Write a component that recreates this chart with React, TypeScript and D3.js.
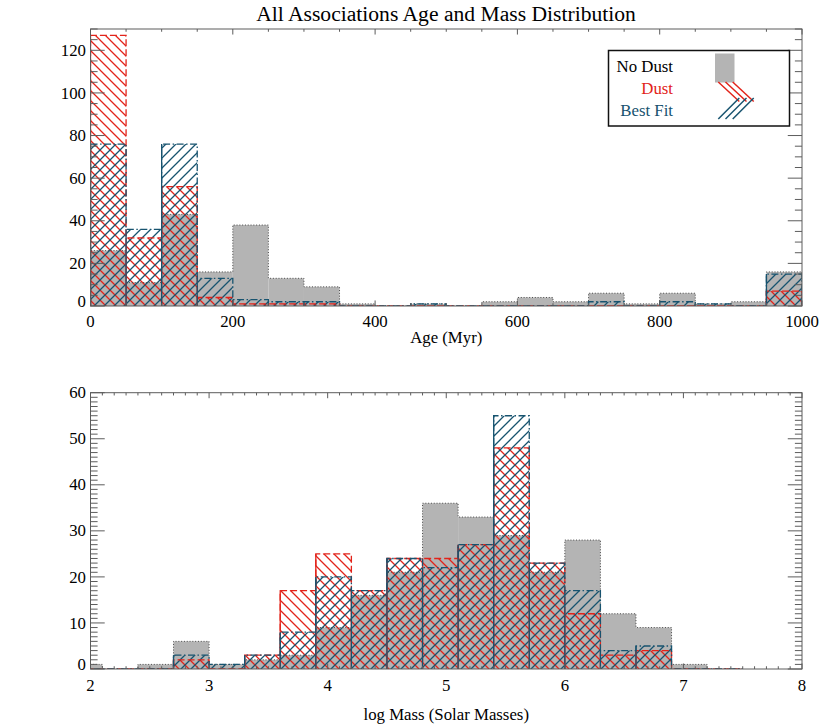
import React from "react";
import * as d3 from "d3";

// ---------- data ----------
const ageBinStart = 0;
const ageBinWidth = 50;
const ageNoDust = [26, 11, 43, 16, 38, 13, 9, 1, 0, 1, 0, 2, 4, 2, 6, 1, 6, 1, 2, 16];
const ageDust = [127, 32, 56, 4, 1, 1, 1, 0, 0, 0, 0, 0, 0, 0, 0, 0, 0, 0, 0, 7];
const ageBestFit = [76, 36, 76, 13, 3, 2, 2, 0, 0, 1, 0, 0, 0, 0, 2, 0, 2, 1, 0, 15];
const ageXTicks = [0, 200, 400, 600, 800, 1000];
const ageYTicks = [0, 20, 40, 60, 80, 100, 120];

const massBinStart = 1.8;
const massBinWidth = 0.3;
const massNoDust = [1, 0, 1, 6, 1, 2, 3, 9, 16, 21, 36, 33, 29, 21, 28, 12, 9, 1, 0];
const massDust = [0, 0, 0, 2, 0, 3, 17, 25, 17, 24, 24, 27, 48, 23, 12, 3, 4, 0, 0];
const massBestFit = [0, 0, 0, 3, 1, 3, 8, 20, 17, 24, 22, 27, 55, 23, 17, 4, 5, 0, 0];
const massXTicks = [2, 3, 4, 5, 6, 7, 8];
const massYTicks = [0, 10, 20, 30, 40, 50, 60];

const titleText = "All Associations Age and Mass Distribution";
const legendLabels = ["No Dust", "Dust", "Best Fit"];

// ---------- style ----------
const RED = "#e2231a";
const BLUE = "#17536f";
const GRAY = "#b4b4b4";
const AXIS = "#5c5c5c";
const FONT = "'Liberation Serif', 'DejaVu Serif', serif";

function rangeSteps(a: number, b: number, step: number) {
  const n = Math.round((b - a) / step);
  return d3.range(n + 1).map((i) => +(a + i * step).toFixed(6));
}

type PanelProps = {
  id: string;
  left: number;
  right: number;
  top: number;
  bottom: number;
  xDomain: [number, number];
  yDomain: [number, number];
  binStart: number;
  binWidth: number;
  noDust: number[];
  dust: number[];
  best: number[];
  xTicks: number[];
  yTicks: number[];
  xMinor: number;
  yMinor: number;
  xTitle: string;
  xLabelBaseline: number;
  xTitleBaseline: number;
};

function Panel(p: PanelProps) {
  const x = d3.scaleLinear().domain(p.xDomain).range([p.left, p.right]);
  const y = d3.scaleLinear().domain(p.yDomain).range([p.bottom, p.top]);
  const edge = (i: number) => p.binStart + i * p.binWidth;
  const step = (vals: number[]) => {
    let s = `M${x(edge(0))},${y(0)}`;
    vals.forEach((v, i) => {
      s += `V${y(v)}H${x(edge(i + 1))}`;
    });
    s += `V${y(0)}`;
    return s;
  };
  const rects = (vals: number[], fill: string) =>
    vals.map((v, i) =>
      v > 0 ? (
        <rect
          key={i}
          x={x(edge(i))}
          y={y(v)}
          width={x(edge(i + 1)) - x(edge(i))}
          height={y(0) - y(v)}
          fill={fill}
        />
      ) : null
    );
  const leftEdges = (vals: number[], color: string) =>
    vals.map((v, i) =>
      v > 0 ? (
        <line key={i} x1={x(edge(i))} x2={x(edge(i))} y1={y(0)} y2={y(v)} stroke={color} strokeWidth={1.3} />
      ) : null
    );
  const w = p.right - p.left;
  const h = p.bottom - p.top;
  const yMajLen = 0.02 * w;
  const xMajLen = 0.02 * h;
  const xMinorTicks = rangeSteps(p.xDomain[0], p.xDomain[1], p.xMinor);
  const yMinorTicks = rangeSteps(p.yDomain[0], p.yDomain[1], p.yMinor);
  const clipId = `clip-${p.id}`;
  return (
    <g>
      <defs>
        <clipPath id={clipId}>
          <rect x={p.left} y={p.top} width={w} height={h} />
        </clipPath>
      </defs>
      <g clipPath={`url(#${clipId})`}>
        {rects(p.noDust, GRAY)}
        {rects(p.dust, "url(#hatchRed)")}
        {rects(p.best, "url(#hatchBlue)")}
        <path d={step(p.noDust)} fill="none" stroke="#4a4a4a" strokeWidth={1} strokeDasharray="1,1.8" />
        <path d={step(p.dust)} fill="none" stroke={RED} strokeWidth={1.3} strokeDasharray="7,3" />
        {leftEdges(p.dust, RED)}
        <path d={step(p.best)} fill="none" stroke={BLUE} strokeWidth={1.3} strokeDasharray="7,2.5,1.5,2.5" />
        {leftEdges(p.best, BLUE)}
      </g>
      {/* frame */}
      <rect x={p.left} y={p.top} width={w} height={h} fill="none" stroke={AXIS} strokeWidth={1} />
      {/* x ticks */}
      {xMinorTicks.map((t, i) => {
        const major = p.xTicks.some((m) => Math.abs(m - t) < 1e-6);
        const len = major ? xMajLen : xMajLen / 2;
        return (
          <g key={`xt${i}`} stroke={AXIS} strokeWidth={1}>
            <line x1={x(t)} x2={x(t)} y1={p.bottom} y2={p.bottom - len} />
            <line x1={x(t)} x2={x(t)} y1={p.top} y2={p.top + len} />
          </g>
        );
      })}
      {yMinorTicks.map((t, i) => {
        const major = p.yTicks.some((m) => Math.abs(m - t) < 1e-6);
        const len = major ? yMajLen : yMajLen / 2;
        return (
          <g key={`yt${i}`} stroke={AXIS} strokeWidth={1}>
            <line x1={p.left} x2={p.left + len} y1={y(t)} y2={y(t)} />
            <line x1={p.right} x2={p.right - len} y1={y(t)} y2={y(t)} />
          </g>
        );
      })}
      {/* labels */}
      {p.xTicks.map((t, i) => (
        <text key={`xl${i}`} x={x(t)} y={p.xLabelBaseline} textAnchor="middle" fontFamily={FONT} fontSize={16.8}>
          {t}
        </text>
      ))}
      {p.yTicks.map((t, i) => (
        <text
          key={`yl${i}`}
          x={p.left - 4.5}
          y={Math.min(y(t) + 5.6, p.bottom + 0.5)}
          textAnchor="end"
          fontFamily={FONT}
          fontSize={16.8}
        >
          {t}
        </text>
      ))}
      <text x={(p.left + p.right) / 2} y={p.xTitleBaseline} textAnchor="middle" fontFamily={FONT} fontSize={16.8}>
        {p.xTitle}
      </text>
    </g>
  );
}

function Legend() {
  const bx = 608.5, by = 50.5, bw = 181, bh = 75.5;
  const textX = 673;
  const redStarts = [718.3, 725.5, 732.7];
  const blueStarts = [718.3, 725.5, 732.7];
  return (
    <g>
      <rect x={bx} y={by} width={bw} height={bh} fill="#fff" stroke="#111" strokeWidth={1.5} />
      <text x={textX} y={72} textAnchor="end" fontFamily={FONT} fontSize={16.8} fill="#000">
        {legendLabels[0]}
      </text>
      <text x={textX} y={94} textAnchor="end" fontFamily={FONT} fontSize={16.8} fill={RED}>
        {legendLabels[1]}
      </text>
      <text x={textX} y={115.5} textAnchor="end" fontFamily={FONT} fontSize={16.8} fill={BLUE}>
        {legendLabels[2]}
      </text>
      <rect x={715} y={53.5} width={19.5} height={29} fill={GRAY} />
      {redStarts.map((sx, i) => (
        <line key={`r${i}`} x1={sx} y1={82} x2={sx + 21} y2={101.5} stroke={RED} strokeWidth={1.5} />
      ))}
      {blueStarts.map((sx, i) => (
        <line key={`b${i}`} x1={sx} y1={119} x2={sx + 21} y2={98} stroke={BLUE} strokeWidth={1.5} />
      ))}
    </g>
  );
}

export default function App() {
  return (
    <svg
      width={830}
      height={727}
      style={{ position: "absolute", left: 0, top: 0, background: "#fff" }}
    >
      <defs>
        <pattern id="hatchRed" patternUnits="userSpaceOnUse" width={10} height={10}>
          <path d="M0,0 L10,10 M-5,5 L5,15 M5,-5 L15,5" stroke={RED} strokeWidth={1.3} />
        </pattern>
        <pattern id="hatchBlue" patternUnits="userSpaceOnUse" width={10} height={10}>
          <path d="M0,10 L10,0 M-5,5 L5,-5 M5,15 L15,5" stroke={BLUE} strokeWidth={1.3} />
        </pattern>
      </defs>
      <rect x={0} y={0} width={830} height={727} fill="#fff" />
      <text x={446} y={21} textAnchor="middle" fontFamily={FONT} fontSize={21.6}>
        {titleText}
      </text>
      <Panel
        id="age"
        left={90.5}
        right={802}
        top={29}
        bottom={306}
        xDomain={[0, 1000]}
        yDomain={[0, 130]}
        binStart={ageBinStart}
        binWidth={ageBinWidth}
        noDust={ageNoDust}
        dust={ageDust}
        best={ageBestFit}
        xTicks={ageXTicks}
        yTicks={ageYTicks}
        xMinor={50}
        yMinor={5}
        xTitle="Age (Myr)"
        xLabelBaseline={327}
        xTitleBaseline={343}
      />
      <Panel
        id="mass"
        left={90.5}
        right={802}
        top={392.7}
        bottom={669}
        xDomain={[2, 8]}
        yDomain={[0, 60]}
        binStart={massBinStart}
        binWidth={massBinWidth}
        noDust={massNoDust}
        dust={massDust}
        best={massBestFit}
        xTicks={massXTicks}
        yTicks={massYTicks}
        xMinor={0.1}
        yMinor={1}
        xTitle="log Mass (Solar Masses)"
        xLabelBaseline={691}
        xTitleBaseline={720}
      />
      <Legend />
    </svg>
  );
}
